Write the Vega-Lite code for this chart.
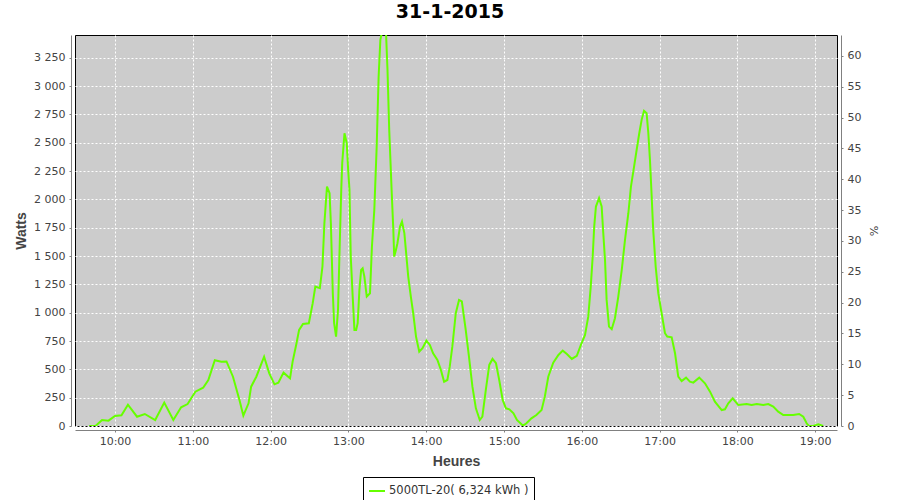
{
  "$schema": "https://vega.github.io/schema/vega-lite/v6.json",
  "width": 762,
  "height": 391,
  "autosize": {"type": "none"},
  "padding": {"left": 75, "top": 35, "right": 63, "bottom": 74},
  "background": "white",
  "title": {"text": "31-1-2015", "font": "DejaVu Sans", "fontSize": 19, "fontWeight": "bold", "color": "black", "anchor": "middle", "dx": -6, "dy": 17, "offset": 11, "baseline": "bottom"},
  "config": {"view": {"stroke": "black", "strokeWidth": 1, "fill": "#cccccc"}},
  "data": {"values": [
    {"t": "2015-01-31T09:40:00", "w": 0},
    {"t": "2015-01-31T09:45:00", "w": 0},
    {"t": "2015-01-31T09:50:00", "w": 53},
    {"t": "2015-01-31T09:55:00", "w": 47},
    {"t": "2015-01-31T10:00:00", "w": 88},
    {"t": "2015-01-31T10:05:00", "w": 94},
    {"t": "2015-01-31T10:10:00", "w": 188},
    {"t": "2015-01-31T10:17:00", "w": 82},
    {"t": "2015-01-31T10:23:00", "w": 106},
    {"t": "2015-01-31T10:31:00", "w": 53},
    {"t": "2015-01-31T10:38:00", "w": 206},
    {"t": "2015-01-31T10:45:00", "w": 53},
    {"t": "2015-01-31T10:51:00", "w": 165},
    {"t": "2015-01-31T10:56:00", "w": 194},
    {"t": "2015-01-31T11:02:00", "w": 303},
    {"t": "2015-01-31T11:08:00", "w": 338},
    {"t": "2015-01-31T11:12:00", "w": 406},
    {"t": "2015-01-31T11:17:00", "w": 580},
    {"t": "2015-01-31T11:22:00", "w": 568},
    {"t": "2015-01-31T11:26:00", "w": 570},
    {"t": "2015-01-31T11:31:00", "w": 435},
    {"t": "2015-01-31T11:36:00", "w": 230},
    {"t": "2015-01-31T11:39:00", "w": 91},
    {"t": "2015-01-31T11:43:00", "w": 200},
    {"t": "2015-01-31T11:45:00", "w": 347},
    {"t": "2015-01-31T11:49:00", "w": 435},
    {"t": "2015-01-31T11:55:00", "w": 612},
    {"t": "2015-01-31T11:59:00", "w": 465},
    {"t": "2015-01-31T12:03:00", "w": 368},
    {"t": "2015-01-31T12:06:00", "w": 383},
    {"t": "2015-01-31T12:10:00", "w": 471},
    {"t": "2015-01-31T12:15:00", "w": 421},
    {"t": "2015-01-31T12:17:00", "w": 568},
    {"t": "2015-01-31T12:20:00", "w": 730},
    {"t": "2015-01-31T12:22:00", "w": 848},
    {"t": "2015-01-31T12:25:00", "w": 901},
    {"t": "2015-01-31T12:29:30", "w": 907},
    {"t": "2015-01-31T12:32:30", "w": 1084},
    {"t": "2015-01-31T12:34:30", "w": 1230},
    {"t": "2015-01-31T12:38:00", "w": 1216},
    {"t": "2015-01-31T12:40:00", "w": 1407},
    {"t": "2015-01-31T12:41:30", "w": 1790},
    {"t": "2015-01-31T12:43:30", "w": 2113},
    {"t": "2015-01-31T12:45:30", "w": 2055},
    {"t": "2015-01-31T12:46:30", "w": 1790},
    {"t": "2015-01-31T12:48:00", "w": 1172},
    {"t": "2015-01-31T12:49:00", "w": 907},
    {"t": "2015-01-31T12:50:30", "w": 789},
    {"t": "2015-01-31T12:52:00", "w": 1024},
    {"t": "2015-01-31T12:53:00", "w": 1466},
    {"t": "2015-01-31T12:54:30", "w": 2084},
    {"t": "2015-01-31T12:55:15", "w": 2320},
    {"t": "2015-01-31T12:57:00", "w": 2584},
    {"t": "2015-01-31T12:58:45", "w": 2496},
    {"t": "2015-01-31T12:59:50", "w": 2261},
    {"t": "2015-01-31T13:00:50", "w": 2084},
    {"t": "2015-01-31T13:01:50", "w": 1495},
    {"t": "2015-01-31T13:03:20", "w": 1142},
    {"t": "2015-01-31T13:04:40", "w": 848},
    {"t": "2015-01-31T13:06:00", "w": 848},
    {"t": "2015-01-31T13:07:10", "w": 907},
    {"t": "2015-01-31T13:08:30", "w": 1201},
    {"t": "2015-01-31T13:09:50", "w": 1378},
    {"t": "2015-01-31T13:11:00", "w": 1392},
    {"t": "2015-01-31T13:12:20", "w": 1319},
    {"t": "2015-01-31T13:14:10", "w": 1142},
    {"t": "2015-01-31T13:16:40", "w": 1172},
    {"t": "2015-01-31T13:18:10", "w": 1584},
    {"t": "2015-01-31T13:20:00", "w": 1908},
    {"t": "2015-01-31T13:21:50", "w": 2467},
    {"t": "2015-01-31T13:23:20", "w": 3085},
    {"t": "2015-01-31T13:24:40", "w": 3409},
    {"t": "2015-01-31T13:26:00", "w": 3480},
    {"t": "2015-01-31T13:29:00", "w": 3480},
    {"t": "2015-01-31T13:30:10", "w": 3144},
    {"t": "2015-01-31T13:31:30", "w": 2614},
    {"t": "2015-01-31T13:33:20", "w": 2084},
    {"t": "2015-01-31T13:34:40", "w": 1731},
    {"t": "2015-01-31T13:35:20", "w": 1495},
    {"t": "2015-01-31T13:36:40", "w": 1554},
    {"t": "2015-01-31T13:37:50", "w": 1613},
    {"t": "2015-01-31T13:39:50", "w": 1760},
    {"t": "2015-01-31T13:41:20", "w": 1804},
    {"t": "2015-01-31T13:43:10", "w": 1702},
    {"t": "2015-01-31T13:44:20", "w": 1554},
    {"t": "2015-01-31T13:46:10", "w": 1319},
    {"t": "2015-01-31T13:48:10", "w": 1142},
    {"t": "2015-01-31T13:50:00", "w": 995},
    {"t": "2015-01-31T13:52:10", "w": 789},
    {"t": "2015-01-31T13:54:40", "w": 656},
    {"t": "2015-01-31T13:57:10", "w": 686},
    {"t": "2015-01-31T14:00:10", "w": 753},
    {"t": "2015-01-31T14:02:50", "w": 715},
    {"t": "2015-01-31T14:05:20", "w": 642},
    {"t": "2015-01-31T14:08:40", "w": 583},
    {"t": "2015-01-31T14:11:20", "w": 495},
    {"t": "2015-01-31T14:13:50", "w": 391},
    {"t": "2015-01-31T14:16:20", "w": 406},
    {"t": "2015-01-31T14:18:10", "w": 524},
    {"t": "2015-01-31T14:20:10", "w": 700},
    {"t": "2015-01-31T14:22:50", "w": 995},
    {"t": "2015-01-31T14:25:20", "w": 1113},
    {"t": "2015-01-31T14:27:30", "w": 1100},
    {"t": "2015-01-31T14:30:30", "w": 848},
    {"t": "2015-01-31T14:33:00", "w": 612},
    {"t": "2015-01-31T14:35:40", "w": 347},
    {"t": "2015-01-31T14:38:20", "w": 156},
    {"t": "2015-01-31T14:41:20", "w": 53},
    {"t": "2015-01-31T14:43:20", "w": 82},
    {"t": "2015-01-31T14:46:00", "w": 318},
    {"t": "2015-01-31T14:48:40", "w": 539},
    {"t": "2015-01-31T14:51:10", "w": 592},
    {"t": "2015-01-31T14:53:50", "w": 554},
    {"t": "2015-01-31T14:56:20", "w": 406},
    {"t": "2015-01-31T14:59:00", "w": 230},
    {"t": "2015-01-31T15:01:30", "w": 156},
    {"t": "2015-01-31T15:04:10", "w": 147},
    {"t": "2015-01-31T15:07:20", "w": 112},
    {"t": "2015-01-31T15:10:00", "w": 53},
    {"t": "2015-01-31T15:14:40", "w": 3},
    {"t": "2015-01-31T15:17:20", "w": 24},
    {"t": "2015-01-31T15:21:10", "w": 68},
    {"t": "2015-01-31T15:25:00", "w": 97},
    {"t": "2015-01-31T15:29:00", "w": 141},
    {"t": "2015-01-31T15:31:30", "w": 259},
    {"t": "2015-01-31T15:34:10", "w": 435},
    {"t": "2015-01-31T15:38:00", "w": 559},
    {"t": "2015-01-31T15:42:00", "w": 627},
    {"t": "2015-01-31T15:45:20", "w": 665},
    {"t": "2015-01-31T15:48:30", "w": 636},
    {"t": "2015-01-31T15:52:20", "w": 592},
    {"t": "2015-01-31T15:56:10", "w": 620},
    {"t": "2015-01-31T15:59:20", "w": 715},
    {"t": "2015-01-31T16:02:30", "w": 804},
    {"t": "2015-01-31T16:05:00", "w": 965},
    {"t": "2015-01-31T16:06:55", "w": 1230},
    {"t": "2015-01-31T16:08:25", "w": 1495},
    {"t": "2015-01-31T16:09:35", "w": 1760},
    {"t": "2015-01-31T16:10:55", "w": 1937},
    {"t": "2015-01-31T16:13:20", "w": 2011},
    {"t": "2015-01-31T16:15:20", "w": 1937},
    {"t": "2015-01-31T16:16:35", "w": 1702},
    {"t": "2015-01-31T16:17:55", "w": 1466},
    {"t": "2015-01-31T16:19:10", "w": 1113},
    {"t": "2015-01-31T16:21:00", "w": 877},
    {"t": "2015-01-31T16:23:05", "w": 854},
    {"t": "2015-01-31T16:25:35", "w": 951},
    {"t": "2015-01-31T16:28:10", "w": 1142},
    {"t": "2015-01-31T16:30:50", "w": 1378},
    {"t": "2015-01-31T16:33:20", "w": 1643},
    {"t": "2015-01-31T16:35:55", "w": 1878},
    {"t": "2015-01-31T16:37:55", "w": 2113},
    {"t": "2015-01-31T16:40:20", "w": 2290},
    {"t": "2015-01-31T16:42:20", "w": 2438},
    {"t": "2015-01-31T16:44:20", "w": 2584},
    {"t": "2015-01-31T16:46:10", "w": 2702},
    {"t": "2015-01-31T16:48:00", "w": 2782},
    {"t": "2015-01-31T16:50:00", "w": 2761},
    {"t": "2015-01-31T16:51:20", "w": 2584},
    {"t": "2015-01-31T16:52:35", "w": 2349},
    {"t": "2015-01-31T16:53:55", "w": 2025},
    {"t": "2015-01-31T16:55:05", "w": 1731},
    {"t": "2015-01-31T16:57:00", "w": 1407},
    {"t": "2015-01-31T16:59:00", "w": 1172},
    {"t": "2015-01-31T17:01:35", "w": 995},
    {"t": "2015-01-31T17:04:10", "w": 819},
    {"t": "2015-01-31T17:05:55", "w": 789},
    {"t": "2015-01-31T17:09:20", "w": 783},
    {"t": "2015-01-31T17:11:55", "w": 642},
    {"t": "2015-01-31T17:14:25", "w": 435},
    {"t": "2015-01-31T17:17:00", "w": 397},
    {"t": "2015-01-31T17:20:25", "w": 427},
    {"t": "2015-01-31T17:23:25", "w": 391},
    {"t": "2015-01-31T17:26:00", "w": 383},
    {"t": "2015-01-31T17:30:35", "w": 427},
    {"t": "2015-01-31T17:35:00", "w": 377},
    {"t": "2015-01-31T17:38:55", "w": 303},
    {"t": "2015-01-31T17:42:40", "w": 215},
    {"t": "2015-01-31T17:47:55", "w": 141},
    {"t": "2015-01-31T17:50:25", "w": 147},
    {"t": "2015-01-31T17:53:00", "w": 200},
    {"t": "2015-01-31T17:56:25", "w": 244},
    {"t": "2015-01-31T18:00:40", "w": 185},
    {"t": "2015-01-31T18:07:10", "w": 194},
    {"t": "2015-01-31T18:11:00", "w": 185},
    {"t": "2015-01-31T18:14:55", "w": 194},
    {"t": "2015-01-31T18:20:00", "w": 185},
    {"t": "2015-01-31T18:23:50", "w": 194},
    {"t": "2015-01-31T18:27:40", "w": 171},
    {"t": "2015-01-31T18:31:30", "w": 127},
    {"t": "2015-01-31T18:35:25", "w": 97},
    {"t": "2015-01-31T18:43:05", "w": 97},
    {"t": "2015-01-31T18:47:40", "w": 106},
    {"t": "2015-01-31T18:50:50", "w": 82},
    {"t": "2015-01-31T18:53:25", "w": 24},
    {"t": "2015-01-31T18:55:10", "w": 0},
    {"t": "2015-01-31T18:58:30", "w": 0},
    {"t": "2015-01-31T19:02:25", "w": 15},
    {"t": "2015-01-31T19:06:10", "w": 0}
  ]},
  "encoding": {
    "x": {
      "field": "t", "type": "temporal",
      "scale": {"domain": [
        {"year": 2015, "month": 1, "date": 31, "hours": 9, "minutes": 29, "seconds": 10},
        {"year": 2015, "month": 1, "date": 31, "hours": 19, "minutes": 16, "seconds": 50}
      ]},
      "axis": {
        "title": "Heures",
        "format": "%H:%M",
        "values": [
          {"year": 2015, "month": 1, "date": 31, "hours": 10},
          {"year": 2015, "month": 1, "date": 31, "hours": 11},
          {"year": 2015, "month": 1, "date": 31, "hours": 12},
          {"year": 2015, "month": 1, "date": 31, "hours": 13},
          {"year": 2015, "month": 1, "date": 31, "hours": 14},
          {"year": 2015, "month": 1, "date": 31, "hours": 15},
          {"year": 2015, "month": 1, "date": 31, "hours": 16},
          {"year": 2015, "month": 1, "date": 31, "hours": 17},
          {"year": 2015, "month": 1, "date": 31, "hours": 18},
          {"year": 2015, "month": 1, "date": 31, "hours": 19}
        ],
        "offset": 4,
        "grid": true, "gridColor": "white", "gridDash": [2, 2], "gridWidth": 1, "gridOpacity": 1,
        "domainColor": "#808080", "tickColor": "#808080", "tickSize": 2,
        "labelFont": "DejaVu Sans", "labelFontSize": 11, "labelColor": "#444444", "labelPadding": 3,
        "labelFlush": false, "labelOverlap": false,
        "titleFont": "Liberation Sans", "titleFontSize": 14, "titleFontWeight": "bold", "titleColor": "#444444",
        "titleY": 35, "titleBaseline": "alphabetic"
      }
    }
  },
  "layer": [
    {
      "mark": {"type": "line", "strokeWidth": 2, "clip": true},
      "encoding": {
        "y": {
          "field": "w", "type": "quantitative",
          "scale": {"domain": [0, 3451], "nice": false, "zero": true},
          "axis": {
            "title": "Watts",
            "values": [0, 250, 500, 750, 1000, 1250, 1500, 1750, 2000, 2250, 2500, 2750, 3000, 3250],
            "labelExpr": "replace(format(datum.value, ','), ',', ' ')",
            "offset": 4,
            "grid": true, "gridColor": "white", "gridDash": [2, 2], "gridWidth": 1, "gridOpacity": 1,
            "domainColor": "#808080", "tickColor": "#808080", "tickSize": 2,
            "labelFont": "DejaVu Sans", "labelFontSize": 11, "labelColor": "#444444", "labelPadding": 4,
            "labelFlush": false, "labelOverlap": false,
            "titleFont": "Liberation Sans", "titleFontSize": 14, "titleFontWeight": "bold", "titleColor": "#444444",
            "titleX": -46, "titleBaseline": "alphabetic", "titleAngle": 270
          }
        },
        "color": {
          "datum": "5000TL-20( 6,324 kWh )",
          "scale": {"range": ["#66ff00"]},
          "legend": {
            "orient": "none", "legendX": 288, "legendY": 442,
            "title": null,
            "strokeColor": "black", "fillColor": "white", "padding": 5,
            "symbolType": "stroke", "symbolStrokeWidth": 2, "symbolSize": 256,
            "labelFont": "DejaVu Sans", "labelFontSize": 11.5, "labelColor": "#333333", "labelOffset": 3
          }
        }
      }
    },
    {
      "mark": {"type": "line", "strokeWidth": 1},
      "encoding": {
        "y": {
          "field": "pct", "type": "quantitative",
          "scale": {"domain": [0, 63.4], "nice": false, "zero": true},
          "axis": {
            "orient": "right",
            "title": "%",
            "values": [0, 5, 10, 15, 20, 25, 30, 35, 40, 45, 50, 55, 60],
            "offset": 4,
            "grid": false,
            "domainColor": "#808080", "tickColor": "#808080", "tickSize": 2,
            "labelFont": "DejaVu Sans", "labelFontSize": 11, "labelColor": "#444444", "labelPadding": 4,
            "labelFlush": false, "labelOverlap": false,
            "titleFont": "DejaVu Sans", "titleFontSize": 11, "titleFontWeight": "normal", "titleColor": "#444444",
            "titleX": 31, "titleAngle": 90, "titleBaseline": "middle"
          }
        }
      }
    }
  ],
  "resolve": {"scale": {"y": "independent"}}
}
